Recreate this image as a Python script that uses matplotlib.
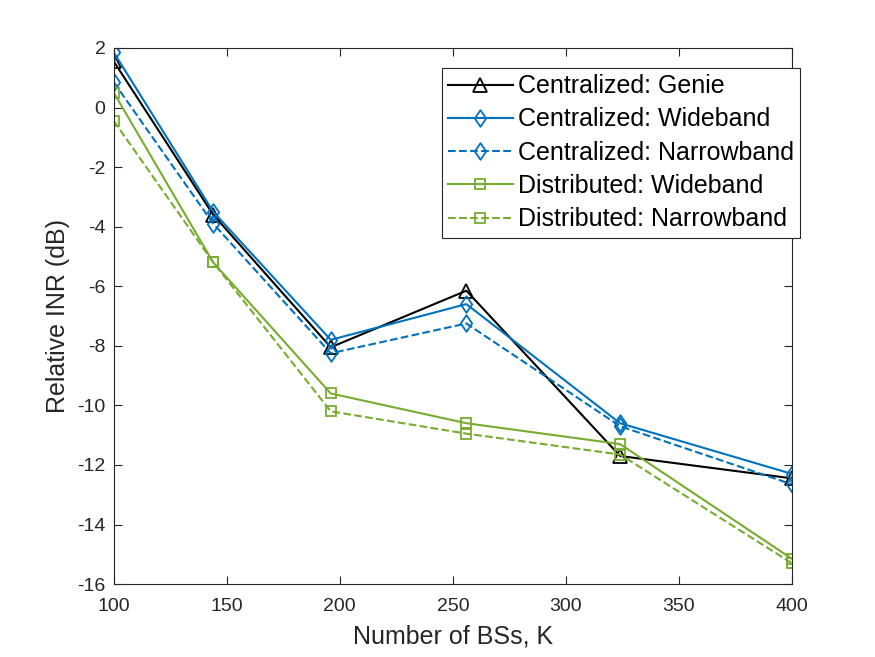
import matplotlib
matplotlib.use("Agg")
import matplotlib.pyplot as plt
from matplotlib.path import Path

plt.rcParams["font.family"] = ["Liberation Sans", "DejaVu Sans"]

num_bs = [100, 144, 196, 256, 324, 400]
cent_genie = [1.55, -3.6, -8.05, -6.15, -11.7, -12.45]
cent_wide = [1.85, -3.5, -7.8, -6.6, -10.6, -12.3]
cent_narrow = [0.85, -3.9, -8.25, -7.25, -10.7, -12.65]
dist_wide = [0.5, -5.2, -9.6, -10.6, -11.3, -15.15]
dist_narrow = [-0.45, -5.2, -10.2, -10.95, -11.65, -15.3]

blue = "#0072BD"
green = "#77AC30"
axis_gray = "#262626"

# MATLAB-like diamond: a bit wider than matplotlib's thin diamond
diamond = Path([(0, 1), (0.68, 0), (0, -1), (-0.68, 0), (0, 1)],
               [Path.MOVETO, Path.LINETO, Path.LINETO, Path.LINETO, Path.CLOSEPOLY])

fig = plt.figure(figsize=(8.75, 6.57), dpi=100)
ax = fig.add_axes([0.13, 0.111, 0.775, 0.816])

style = dict(markerfacecolor="none", markeredgewidth=1.3, linewidth=1.5)
ax.plot(num_bs, cent_genie, color="black", marker="^", markersize=10,
        label="Centralized: Genie", **style)
ax.plot(num_bs, cent_wide, color=blue, marker=diamond, markersize=12,
        label="Centralized: Wideband", **style)
ax.plot(num_bs, cent_narrow, color=blue, marker=diamond, markersize=12, linestyle="--",
        label="Centralized: Narrowband", **style)
ax.plot(num_bs, dist_wide, color=green, marker="s", markersize=7,
        label="Distributed: Wideband", **style)
ax.plot(num_bs, dist_narrow, color=green, marker="s", markersize=7, linestyle="--",
        label="Distributed: Narrowband", **style)

ax.set_xlim(100, 400)
ax.set_ylim(-16, 2)
ax.set_xticks(range(100, 401, 50))
yt = list(range(-16, 3, 2))
ax.set_yticks(yt)
ax.set_yticklabels([str(v) if v >= 0 else "-" + str(-v) for v in yt])
ax.tick_params(direction="in", top=True, right=True, labelsize=14,
               colors=axis_gray, length=6)
ax.tick_params(axis="x", pad=10)
ax.tick_params(axis="y", pad=6)
for spine in ax.spines.values():
    spine.set_color(axis_gray)
    spine.set_linewidth(0.8)

ax.set_xlabel("Number of BSs, K", fontsize=18, color=axis_gray, labelpad=7)
ax.set_ylabel("Relative INR (dB)", fontsize=18, color=axis_gray, labelpad=5)

leg = ax.legend(loc="upper right", bbox_to_anchor=(800 / 875, 1 - 68 / 657),
                bbox_transform=fig.transFigure, fontsize=18, frameon=True,
                fancybox=False, handlelength=2.6, handletextpad=0.2,
                borderaxespad=0, labelspacing=0.37, borderpad=0.25)
leg.get_frame().set_edgecolor(axis_gray)
leg.get_frame().set_linewidth(0.8)
leg.get_frame().set_alpha(1)

fig.savefig("out.png", dpi=100)
